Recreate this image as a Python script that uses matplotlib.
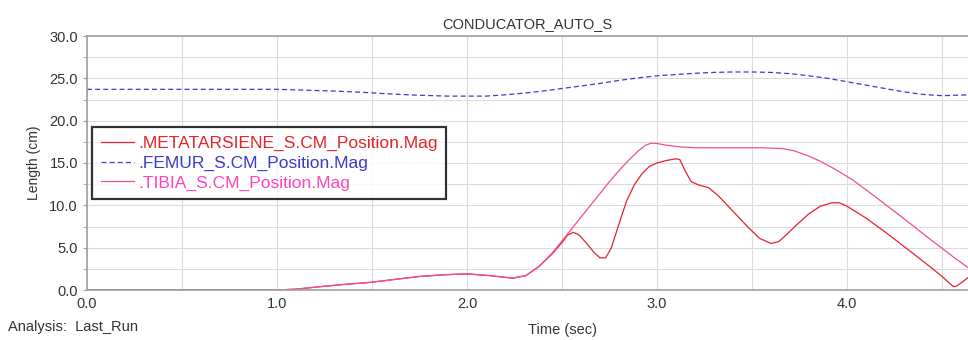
import numpy as np
from matplotlib import pyplot as plt
import matplotlib.ticker as ticker

plt.rcParams['font.family'] = ['Liberation Sans', 'DejaVu Sans']

# ============================== Data =============================== #
title = "CONDUCATOR_AUTO_S"
x_title = "Time (sec)"
y_title = "Length (cm)"
analysis = "Analysis:  Last_Run"

t_meta = [0.0, 1.0, 1.1, 1.23, 1.35, 1.49, 1.62, 1.75, 1.88, 2.0, 2.12, 2.24,
          2.31, 2.38, 2.45, 2.5, 2.53, 2.56, 2.59, 2.63, 2.67, 2.7, 2.73,
          2.76, 2.8, 2.84, 2.88, 2.92, 2.96, 3.0, 3.05, 3.1, 3.12, 3.15,
          3.18, 3.22, 3.27, 3.32, 3.4, 3.48, 3.54, 3.6, 3.64, 3.68, 3.74,
          3.8, 3.86, 3.92, 3.96, 4.0, 4.1, 4.21, 4.32, 4.44, 4.5, 4.54,
          4.56, 4.58, 4.61, 4.64]
y_meta = [0.0, 0.0, 0.1, 0.4, 0.65, 0.9, 1.25, 1.6, 1.8, 1.9, 1.7, 1.4,
          1.7, 2.8, 4.3, 5.6, 6.5, 6.8, 6.5, 5.5, 4.4, 3.8, 3.8,
          5.0, 7.8, 10.5, 12.4, 13.7, 14.6, 15.0, 15.3, 15.5, 15.4, 14.0,
          12.8, 12.4, 12.1, 11.2, 9.3, 7.4, 6.1, 5.5, 5.7, 6.5, 7.8,
          9.0, 9.9, 10.3, 10.3, 9.9, 8.5, 6.7, 4.8, 2.7, 1.6, 0.8,
          0.4, 0.5, 1.0, 1.5]

t_femur = [0.0, 1.0, 1.15, 1.3, 1.45, 1.6, 1.75, 1.9, 2.1, 2.2, 2.3, 2.4,
           2.5, 2.6, 2.7, 2.8, 2.9, 3.0, 3.1, 3.2, 3.3, 3.4, 3.5, 3.6, 3.7,
           3.8, 3.9, 4.0, 4.1, 4.2, 4.3, 4.4, 4.5, 4.64]
y_femur = [23.7, 23.7, 23.6, 23.5, 23.35, 23.15, 23.0, 22.9, 22.9, 23.05,
           23.25, 23.5, 23.8, 24.1, 24.4, 24.75, 25.05, 25.3, 25.45, 25.6,
           25.7, 25.75, 25.75, 25.7, 25.55, 25.3, 25.0, 24.6, 24.2, 23.8,
           23.4, 23.1, 22.95, 23.05]

t_tibia = [0.0, 1.0, 1.1, 1.23, 1.35, 1.49, 1.62, 1.75, 1.88, 2.0, 2.12, 2.24,
           2.31, 2.38, 2.45, 2.5, 2.55, 2.6, 2.65, 2.7, 2.75, 2.8, 2.85,
           2.9, 2.94, 2.97, 3.0, 3.05, 3.12, 3.21, 3.4, 3.55, 3.66, 3.72,
           3.79, 3.86, 3.95, 4.03, 4.15, 4.29, 4.42, 4.56, 4.64]
y_tibia = [0.0, 0.0, 0.1, 0.4, 0.65, 0.9, 1.25, 1.6, 1.8, 1.9, 1.7, 1.4,
           1.7, 2.8, 4.4, 5.8, 7.2, 8.6, 10.0, 11.4, 12.8, 14.1, 15.3,
           16.4, 17.1, 17.35, 17.3, 17.1, 16.9, 16.8, 16.8, 16.8, 16.7, 16.45,
           15.9, 15.2, 14.1, 13.0, 11.0, 8.6, 6.3, 3.9, 2.6]

labels = [".METATARSIENE_S.CM_Position.Mag",
          ".FEMUR_S.CM_Position.Mag",
          ".TIBIA_S.CM_Position.Mag"]
colors = ["#e3242b", "#3a3ad0", "#ff44bb"]
# ==================================================================== #

fig = plt.figure(figsize=(9.68, 3.4), dpi=100)
ax = fig.add_axes([87 / 968, 50 / 340, 1 - 87 / 968, 254 / 340])

ax.plot(t_meta, y_meta, color=colors[0], linewidth=0.9, label=labels[0])
ax.plot(t_femur, y_femur, color=colors[1], linewidth=0.9,
        linestyle=(0, (4, 2.5)), label=labels[1])
ax.plot(t_tibia, y_tibia, color="#f0508a", linewidth=0.9, label=labels[2])

ax.set_xlim(0, 4.637)
ax.set_ylim(0, 30)
ax.xaxis.set_major_locator(ticker.MultipleLocator(1.0))
ax.xaxis.set_minor_locator(ticker.MultipleLocator(0.5))
ax.yaxis.set_major_locator(ticker.MultipleLocator(5.0))
ax.yaxis.set_minor_locator(ticker.MultipleLocator(2.5))
ax.xaxis.set_major_formatter(ticker.FormatStrFormatter('%.1f'))
ax.yaxis.set_major_formatter(ticker.FormatStrFormatter('%.1f'))
ax.grid(True, which='both', color='#dcdcdc', linewidth=0.8)
ax.set_axisbelow(True)

ax.spines['right'].set_visible(False)
for side in ['top', 'left', 'bottom']:
    ax.spines[side].set_color('#a0a0a0')
    ax.spines[side].set_linewidth(1.2)

ax.tick_params(axis='both', which='both', colors='#a0a0a0', labelcolor='#333333',
               labelsize=10.5, length=3)
ax.tick_params(axis='x', which='both', length=0, pad=5)

ax.set_title(title, fontsize=10.5, color='#333333', pad=6)
ax.set_ylabel(y_title, fontsize=10, color='#333333', labelpad=6)
ax.set_xlabel(x_title, fontsize=10.5, color='#333333')
ax.xaxis.set_label_coords((563 - 87) / 881, -0.13)
fig.text(8 / 968, 1 - 327 / 340, analysis, fontsize=10.5, color='#333333',
         va='center', ha='left')

leg = ax.legend(loc='upper left', bbox_to_anchor=(0.006, 0.64), fontsize=12.5,
                frameon=True, fancybox=False, handlelength=1.9,
                handletextpad=0.25, borderpad=0.5, labelspacing=0.25,
                borderaxespad=0)
leg.get_frame().set_edgecolor('black')
leg.get_frame().set_linewidth(1.6)
for txt, c in zip(leg.get_texts(), colors):
    txt.set_color(c)

plt.savefig('out.png', dpi=100)
